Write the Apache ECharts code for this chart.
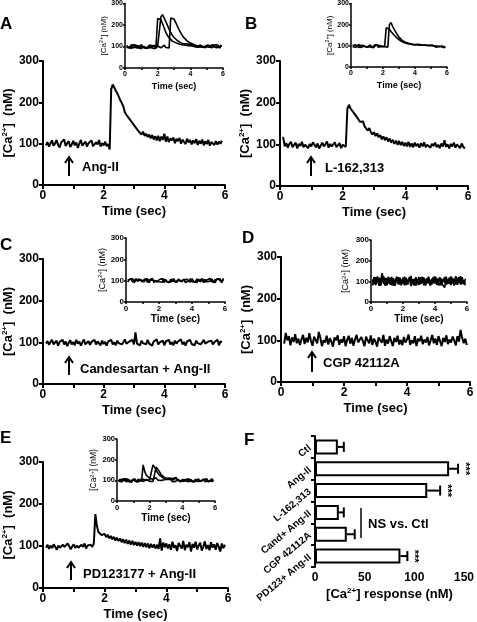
<!DOCTYPE html>
<html>
<head>
<meta charset="utf-8">
<script src="https://cdn.jsdelivr.net/npm/echarts@6/dist/echarts.min.js"></script>
<style>
html,body{margin:0;padding:0;background:#fff;}
#c{width:477px;height:622px;}
</style>
</head>
<body>
<div id="c"></div>
<script>
// ---------- DATA ----------
// main traces: sampled from t = 0.10 s every 0.05 s
const mainStart = 0.1, mainStep = 0.05;
const traceA = [96,104,93,101,108,95,100,109,97,91,103,99,110,94,101,106,92,98,107,96,
103,90,100,109,95,98,105,93,101,97,108,94,92,103,98,109,93,101,96,105,
94,99,86,232,243,236,228,222,214,205,198,190,176,170,165,160,156,150,146,140,
137,130,131,122,129,119,124,116,122,113,121,110,118,108,119,106,117,109,124,105,
117,104,113,108,115,101,112,106,114,100,110,104,99,112,103,109,98,108,101,111,
97,107,100,110,96,106,99,109,95,104,108,97,106,98,105,100,107];
const traceB = [118,95,103,92,101,106,93,99,104,90,101,96,106,93,99,103,91,101,95,105,
99,93,102,90,97,104,95,100,107,92,101,95,99,105,93,97,103,91,99,96,
94,185,195,186,190,176,172,166,160,154,150,155,143,140,133,139,129,124,129,120,
126,117,122,112,119,110,117,107,114,104,111,101,109,99,108,98,106,96,104,95,
106,94,102,93,104,96,101,92,103,95,105,93,99,102,92,101,96,104,93,99,
91,102,95,110,94,100,90,101,95,104,92,100,96,91,102,94,90];
const traceC = [97,103,94,101,106,95,99,104,92,101,97,106,95,102,91,99,105,95,101,93,
106,97,102,92,100,107,95,99,103,94,101,97,106,95,102,99,93,104,96,101,
92,102,98,106,95,100,93,104,98,102,95,100,107,97,93,102,98,106,95,124,
97,101,93,104,98,102,95,106,97,100,92,102,98,107,95,100,97,104,93,102,
98,106,95,100,93,104,97,102,98,107,95,101,92,102,98,106,96,100,93,104,
98,102,95,100,106,97,93,102,98,104,95,100,97,106,93,102,101];
const traceD = [92,118,100,110,88,107,96,115,93,104,89,102,113,91,106,95,117,99,87,109,
101,93,120,106,86,100,95,111,90,105,97,85,107,100,112,89,102,95,110,86,
101,111,92,106,87,102,113,95,91,108,98,86,109,100,93,112,89,104,97,85,
107,100,94,113,87,102,92,110,98,86,106,96,111,90,101,88,108,95,102,114,
89,100,93,110,86,104,98,111,91,102,95,108,88,100,113,93,104,89,110,98,
86,106,96,112,91,102,95,109,100,88,110,97,125,106,93,104,89];
const traceE = [96,103,93,101,95,104,98,91,101,96,93,103,98,94,106,100,92,99,104,95,
101,96,93,103,98,106,94,101,97,103,98,106,176,148,133,134,126,127,129,121,
127,118,124,116,122,113,120,112,118,109,116,107,115,105,113,103,112,102,110,101,
109,100,108,98,107,97,106,95,105,96,104,94,103,93,118,89,108,97,106,94,
104,91,110,96,102,88,107,100,94,112,90,103,97,109,87,105,96,110,92,101,
108,89,98,111,93,102,90,109,96,104,91,107,98,87,106,95,103];

// inset traces: sampled from t = 0.10 s every 0.10 s
const insetStart = 0.1, insetStep = 0.1;
const insetA1 = [100,108,93,104,97,109,94,105,91,101,108,96,103,92,106,95,101,90,104,230,
236,226,206,186,166,151,140,133,125,121,118,114,112,110,108,111,106,109,104,107,
103,110,99,106,97,108,96,105,101,94,107,100,93,105,97,109,100,95,107];
const insetA2 = [94,103,98,109,92,101,106,95,104,90,100,108,95,103,93,106,97,101,91,104,
96,238,248,232,215,198,180,165,152,142,135,128,122,118,115,112,110,113,108,110,
104,110,100,108,97,106,99,107,94,105,100,103,95,108,101,96,106,93,104];
const insetA3 = [105,95,101,91,108,97,103,93,100,109,95,104,91,100,107,94,98,105,96,101,
103,94,98,106,95,101,93,232,238,228,212,196,180,166,152,142,133,126,120,116,
113,108,114,105,111,103,109,100,107,98,106,97,105,99,104,94,103,98,107];
const insetB1 = [96,104,93,101,107,92,100,98,105,94,101,96,103,91,99,106,94,101,97,104,
95,185,190,178,168,160,150,142,135,128,124,119,116,113,111,109,108,106,105,103,
106,100,103,97,104,99,102,96,101,95,103,97,94,101,96,92,99,95,91];
const insetB2 = [101,94,105,98,92,103,96,101,107,94,99,104,92,100,105,96,103,94,99,101,
97,103,94,200,210,192,178,165,152,141,133,126,121,117,114,112,110,108,106,105,
101,107,99,105,98,104,96,103,97,102,94,100,95,99,93,97,101,92,96];
const insetC1 = [103,94,108,93,100,109,97,90,105,100,95,107,92,103,98,110,91,101,106,95,
103,93,108,97,101,91,106,95,109,93,100,107,97,90,104,95,106,100,93,109,
97,103,91,107,95,101,106,93,103,98,110,95,100,91,106,97,108,93,111];
const insetC2 = [94,105,98,110,91,103,96,108,100,93,106,98,109,91,103,95,101,107,93,104,
98,110,91,106,95,103,93,108,97,101,93,104,109,95,107,91,100,98,109,95,
103,93,108,97,100,110,91,106,95,103,98,108,93,104,96,109,100,91,106];
const insetD1 = [80,118,92,124,78,106,140,88,117,81,112,91,121,79,104,96,119,84,109,93,
123,82,101,115,77,110,95,120,86,104,89,122,81,107,98,117,79,113,91,124,
84,103,119,80,110,94,122,87,105,82,116,96,125,83,107,90,120,85,112];
const insetD2 = [109,86,120,95,113,78,103,123,83,115,90,118,81,109,94,122,86,106,80,119,
96,113,84,121,92,103,80,116,99,83,120,94,111,80,115,89,106,84,122,97,
110,81,118,92,101,70,112,95,119,86,104,79,115,98,121,84,109,92,100];
const insetD3 = [95,121,82,104,117,90,127,98,79,108,122,84,99,115,78,109,93,119,88,102,
81,116,95,106,126,86,112,79,103,120,87,100,119,83,96,123,80,104,115,90,
118,93,81,113,99,121,83,108,89,124,92,110,84,117,96,125,87,103,81];
const insetE1 = [96,106,92,102,98,108,94,101,91,104,99,93,106,100,95,175,142,124,115,110,
114,105,108,112,101,109,99,107,103,96,106,98,104,93,102,95,106,100,92,104,
98,103,94,107,96,101,92,105,99,94,103,97,107,93,101,98,105,94,102];
const insetE2 = [103,93,100,107,95,99,105,91,101,96,107,94,102,98,92,105,96,101,94,103,
99,175,168,150,135,125,118,113,110,108,106,111,102,109,100,112,101,107,98,105,
99,106,95,104,97,102,94,101,96,105,98,92,103,96,107,94,101,99,95];
const insetE3 = [94,101,105,96,108,92,103,98,94,106,96,102,92,100,107,94,99,104,100,95,
103,94,100,165,158,142,128,120,114,110,108,113,104,111,103,115,100,108,98,106,
95,105,101,93,104,99,92,102,97,106,94,100,104,96,103,92,100,107,98];

// panel F
const fCategories = ['Ctl','Ang-II','L-162,313','Cand+ Ang-II','CGP 42112A','PD123+ Ang-II'];
const fMeans = [23,135,113,24,32,86];
const fErrors = [6,9,13,5,8,7];
const fSig = ['','***','***','','','***'];

// axis ticks
const yTicks = [0,100,200,300];
const xTicks = [0,2,4,6];
const fTicks = [0,50,100,150];

// annotations
const treatments = ['Ang-II','L-162,313','Candesartan + Ang-II','CGP 42112A','PD123177 + Ang-II'];
const panelLetters = ['A','B','C','D','E','F'];

// ---------- BUILD ----------
const FF = '"Liberation Sans", Arial, Helvetica, sans-serif';
const toPairs = (arr, start, step) => arr.map((v, i) => [Math.round((start + step * i) * 1000) / 1000, v]);

const grids = [
  {left:36, top:61, width:189, height:124},   // A main
  {left:125, top:3, width:98, height:65},     // A inset
  {left:280, top:61, width:188, height:125},  // B main
  {left:351, top:3, width:96, height:64},     // B inset
  {left:36, top:259, width:189, height:125},  // C main
  {left:126, top:238, width:99, height:64},   // C inset
  {left:281, top:257, width:189, height:125}, // D main
  {left:371, top:240, width:96, height:62},   // D inset
  {left:40, top:462, width:188, height:126},  // E main
  {left:117, top:439, width:98, height:62},   // E inset
  {left:315, top:436, width:152, height:131}  // F
];

const insetCfg = [
  {tick:7, yname:8, time:9, yGap:12, xGap:14},
  {tick:7, yname:8, time:9, yGap:14, xGap:14},
  {tick:8, yname:9, time:10, yGap:18, xGap:9},
  {tick:8, yname:9, time:10, yGap:20, xGap:9},
  {tick:7.5, yname:8.5, time:10, yGap:12, xGap:12}
];

const xAxes = [], yAxes = [], series = [];

function mainAxes(g) {
  xAxes.push({
    type:'value', gridIndex:g, min:0, max:6, interval:1,
    axisLine:{lineStyle:{color:'#000', width:2}},
    axisTick:{length:4, lineStyle:{color:'#000', width:2}},
    axisLabel:{formatter: v => xTicks.includes(v) ? String(v) : '', color:'#000', fontWeight:'bold', fontSize:12, fontFamily:FF, margin:5},
    splitLine:{show:false},
    name:'Time (sec)', nameLocation:'middle', nameGap:20,
    nameTextStyle:{color:'#000', fontWeight:'bold', fontSize:13, fontFamily:FF}
  });
  yAxes.push({
    type:'value', gridIndex:g, min:0, max:300, interval:100,
    axisLine:{show:true, onZero:false, lineStyle:{color:'#000', width:2}},
    axisTick:{show:true, length:4, lineStyle:{color:'#000', width:2}},
    axisLabel:{formatter: v => yTicks.includes(v) ? String(v) : '', color:'#000', fontWeight:'bold', fontSize:12, fontFamily:FF, margin:4},
    splitLine:{show:false},
    name:'[Ca{sup|2+}]  (nM)', nameLocation:'middle', nameGap:20, nameRotate:90,
    nameTextStyle:{color:'#000', fontWeight:'bold', fontSize:13, fontFamily:FF,
      rich:{sup:{fontSize:8, fontWeight:'bold', fontFamily:FF, color:'#000', padding:[0,0,7,0]}}}
  });
}
function insetAxes(g, c) {
  xAxes.push({
    type:'value', gridIndex:g, min:0, max:6, interval:1,
    axisLine:{lineStyle:{color:'#000', width:1.5}},
    axisTick:{length:2, lineStyle:{color:'#000', width:1.5}},
    axisLabel:{formatter: v => xTicks.includes(v) ? String(v) : '', color:'#000', fontWeight:'bold', fontSize:c.tick, fontFamily:FF, margin:3},
    splitLine:{show:false},
    name:'Time (sec)', nameLocation:'middle', nameGap:c.xGap,
    nameTextStyle:{color:'#000', fontWeight:'bold', fontSize:c.time, fontFamily:FF}
  });
  yAxes.push({
    type:'value', gridIndex:g, min:0, max:300, interval:100,
    axisLine:{show:true, onZero:false, lineStyle:{color:'#000', width:1.5}},
    axisTick:{show:true, length:2, lineStyle:{color:'#000', width:1.5}},
    axisLabel:{formatter: v => yTicks.includes(v) ? String(v) : '', color:'#000', fontWeight:'bold', fontSize:c.tick, fontFamily:FF, margin:2},
    splitLine:{show:false},
    name:'[Ca{sup|2+}] (nM)', nameLocation:'middle', nameGap:c.yGap, nameRotate:90,
    nameTextStyle:{color:'#000', fontSize:c.yname, fontFamily:FF,
      rich:{sup:{fontSize:c.yname*0.65, fontFamily:FF, color:'#000', padding:[0,0,4,0]}}}
  });
}
function lineSeries(g, arr, start, step, w) {
  series.push({
    type:'line', xAxisIndex:g, yAxisIndex:g, data:toPairs(arr, start, step),
    symbol:'none', silent:true, lineStyle:{color:'#000', width:w}
  });
}

const mainTraces = [traceA, traceB, traceC, traceD, traceE];
const insetTraces = [[insetA1, insetA2, insetA3],[insetB1, insetB2],[insetC1, insetC2],[insetD1, insetD2, insetD3],[insetE1, insetE2, insetE3]];
for (let p = 0; p < 5; p++) {
  mainAxes(2 * p);
  insetAxes(2 * p + 1, insetCfg[p]);
  lineSeries(2 * p, mainTraces[p], mainStart, mainStep, 2);
  insetTraces[p].forEach(tr => lineSeries(2 * p + 1, tr, insetStart, insetStep, 1.6));
}

// Panel F axes
xAxes.push({
  type:'value', gridIndex:10, min:0, max:150, interval:50,
  axisLine:{lineStyle:{color:'#000', width:2}},
  axisTick:{length:4, lineStyle:{color:'#000', width:2}},
  axisLabel:{formatter: v => fTicks.includes(v) ? String(v) : '', color:'#000', fontWeight:'bold', fontSize:12, fontFamily:FF, margin:5},
  splitLine:{show:false},
  name:'[Ca{sup|2+}] response (nM)', nameLocation:'middle', nameGap:20,
  nameTextStyle:{color:'#000', fontWeight:'bold', fontSize:13, fontFamily:FF,
    rich:{sup:{fontSize:8, fontWeight:'bold', fontFamily:FF, color:'#000', padding:[0,0,7,0]}}}
});
yAxes.push({
  type:'category', gridIndex:10, data:fCategories, inverse:true,
  axisLine:{show:true, onZero:false, lineStyle:{color:'#000', width:2}},
  axisTick:{show:true, length:4, lineStyle:{color:'#000', width:2}},
  axisLabel:{color:'#000', fontWeight:'bold', fontSize:10, fontFamily:FF, rotate:40, margin:5}
});
series.push({
  type:'bar', xAxisIndex:10, yAxisIndex:10, data:fMeans, barWidth:15, silent:true,
  itemStyle:{color:'#fff', borderColor:'#000', borderWidth:2}
});
series.push({
  type:'custom', xAxisIndex:10, yAxisIndex:10, silent:true,
  data: fCategories.map((c, i) => [i, fMeans[i], fErrors[i]]),
  encode:{y:0, x:[1,2]},
  renderItem:(params, api) => {
    const i = api.value(0), m = api.value(1), e = api.value(2);
    const p0 = api.coord([m, i]);
    const p1 = api.coord([m + e, i]);
    const h = 5;
    const ch = [
      {type:'line', shape:{x1:p0[0], y1:p0[1], x2:p1[0], y2:p1[1]}, style:{stroke:'#000', lineWidth:2}},
      {type:'line', shape:{x1:p1[0], y1:p1[1]-h, x2:p1[0], y2:p1[1]+h}, style:{stroke:'#000', lineWidth:2}}
    ];
    const s = fSig[params.dataIndex];
    if (s) ch.push({type:'text', x:p1[0]+7, y:p1[1], rotation:-Math.PI/2,
      style:{text:s, fill:'#000', fontSize:11, fontWeight:'bold', fontFamily:FF, align:'center', verticalAlign:'middle'}});
    return {type:'group', children:ch};
  }
});

// ---------- annotations ----------
const arrowPos = [[69,157,176],[311,157,176],[69,357,375],[312,352,372],[71,562,580]];
const labelPos = [[82,167],[325,168],[80,369],[323,363],[83,574]];
const letterPos = [[0,24],[245,24],[0,245],[242,238],[0,438],[244,440]];
const graphic = [];
arrowPos.forEach(a => {
  graphic.push({type:'polyline', shape:{points:[[a[0],a[2]],[a[0],a[1]]]}, style:{stroke:'#000', lineWidth:2, fill:null}, silent:true});
  graphic.push({type:'polyline', shape:{points:[[a[0]-4,a[1]+6],[a[0],a[1]],[a[0]+4,a[1]+6]]}, style:{stroke:'#000', lineWidth:2, fill:null}, silent:true});
});
treatments.forEach((t, i) => {
  graphic.push({type:'text', x:labelPos[i][0], y:labelPos[i][1], silent:true,
    style:{text:t, fill:'#000', fontSize:13, fontWeight:'bold', fontFamily:FF, align:'left', verticalAlign:'middle'}});
});
panelLetters.forEach((l, i) => {
  graphic.push({type:'text', x:letterPos[i][0], y:letterPos[i][1], silent:true,
    style:{text:l, fill:'#000', fontSize:17, fontWeight:'bold', fontFamily:FF, align:'left', verticalAlign:'middle'}});
});
graphic.push({type:'line', shape:{x1:361, y1:508, x2:361, y2:538}, style:{stroke:'#000', lineWidth:1.5}, silent:true});
graphic.push({type:'text', x:368, y:524, silent:true,
  style:{text:'NS vs. Ctl', fill:'#000', fontSize:13, fontWeight:'bold', fontFamily:FF, align:'left', verticalAlign:'middle'}});

const chart = echarts.init(document.getElementById('c'), null, {renderer:'canvas'});
chart.setOption({
  animation:false,
  backgroundColor:'#fff',
  grid:grids.map(g => Object.assign({containLabel:false}, g)),
  xAxis:xAxes, yAxis:yAxes, series:series, graphic:graphic
});
</script>
</body>
</html>
